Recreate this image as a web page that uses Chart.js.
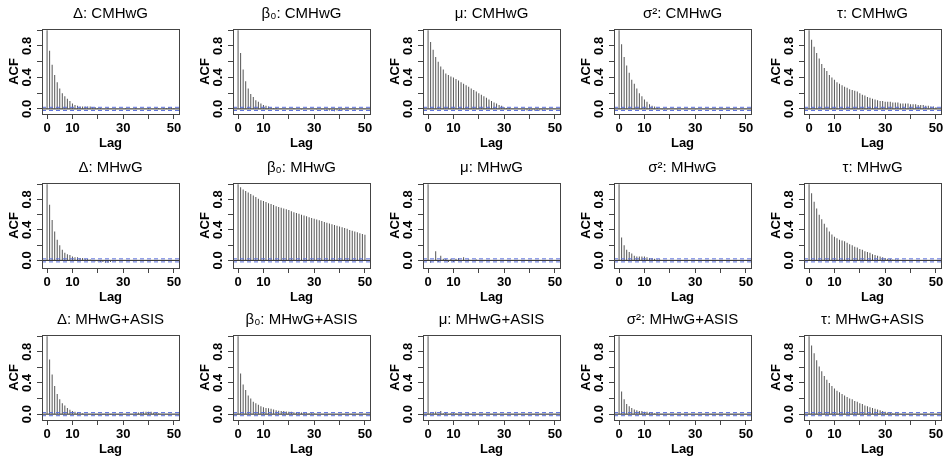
<!DOCTYPE html>
<html>
<head>
<meta charset="utf-8">
<script src="https://cdn.jsdelivr.net/npm/chart.js@4.4.1/dist/chart.umd.min.js"></script>
<style>
body { margin: 0; background: #fff; overflow: hidden; }
#grid { position: relative; width: 945px; height: 456px; overflow: hidden; }
#grid canvas { position: absolute; }
</style>
</head>
<body>
<div id="grid"></div>
<script>
// lags 0..50
const lags = [0,1,2,3,4,5,6,7,8,9,10,
  11,12,13,14,15,16,17,18,19,20,
  21,22,23,24,25,26,27,28,29,30,
  31,32,33,34,35,36,37,38,39,40,
  41,42,43,44,45,46,47,48,49,50];

const xTicks = [0, 10, 20, 30, 40, 50];
const xLabels = [0, 10, 30, 50];       // R drops 20 and 40 (overlap)
const yTicks = [0, 0.2, 0.4, 0.6, 0.8, 1.0];
const yLabels = [0, 0.4, 0.8];
const ciBound = 0.02;                  // dashed blue band

// ---- row 1 : CMHwG
const deltaCMHwG = [1.00,
  0.74,0.56,0.43,0.34,0.26,0.20,0.16,0.13,0.10,0.07,
  0.05,0.04,0.03,0.03,0.03,0.03,0.03,0.02,0.02,0.01,
  0.01,0.00,0.00,0.01,0.00,0.00,-0.01,0.00,0.00,0.00,
  0.01,0.00,0.00,0.00,0.01,0.00,0.00,0.00,0.00,0.01,
  0.00,0.00,0.01,0.01,0.00,0.01,0.01,0.02,0.02,0.01];
const beta0CMHwG = [1.00,
  0.71,0.50,0.35,0.26,0.19,0.15,0.11,0.09,0.07,0.05,
  0.04,0.03,0.02,0.01,0.01,0.00,0.00,0.00,0.00,0.00,
  0.00,0.01,0.00,0.00,-0.01,0.00,0.00,0.00,0.00,0.00,
  -0.01,0.00,-0.01,-0.01,-0.02,-0.02,-0.02,-0.03,-0.02,-0.02,
  -0.02,-0.01,-0.01,0.00,0.00,-0.01,0.00,0.00,0.00,0.00];
const muCMHwG = [1.00,
  0.85,0.75,0.66,0.60,0.54,0.50,0.45,0.43,0.41,0.40,
  0.38,0.36,0.34,0.32,0.30,0.28,0.26,0.24,0.22,0.20,
  0.18,0.16,0.14,0.12,0.10,0.08,0.07,0.05,0.04,0.02,
  0.01,0.01,0.00,0.00,0.00,0.00,-0.01,-0.01,-0.02,-0.02,
  -0.02,-0.02,-0.02,-0.02,-0.02,-0.01,-0.01,-0.01,0.00,0.00];
const sigma2CMHwG = [1.00,
  0.82,0.66,0.55,0.46,0.37,0.32,0.26,0.20,0.16,0.12,
  0.09,0.06,0.04,0.03,0.01,0.00,-0.01,-0.01,-0.01,0.00,
  0.00,0.00,-0.01,0.00,0.00,0.00,0.00,0.00,0.00,-0.01,
  0.00,0.00,0.00,0.00,0.00,0.00,0.00,0.00,0.00,0.00,
  0.00,0.00,0.00,0.00,-0.01,0.00,0.00,0.00,0.00,0.00];
const tauCMHwG = [1.00,
  0.88,0.79,0.71,0.64,0.57,0.52,0.48,0.43,0.40,0.37,
  0.34,0.32,0.30,0.28,0.27,0.25,0.24,0.23,0.22,0.20,
  0.18,0.17,0.15,0.14,0.13,0.12,0.11,0.10,0.10,0.09,
  0.09,0.09,0.08,0.08,0.08,0.07,0.07,0.07,0.07,0.06,
  0.06,0.06,0.05,0.05,0.05,0.04,0.04,0.03,0.03,0.02];

// ---- row 2 : MHwG
const deltaMHwG = [1.00,
  0.73,0.53,0.38,0.27,0.20,0.14,0.10,0.08,0.07,0.05,
  0.04,0.04,0.03,0.03,0.02,0.02,0.01,0.00,-0.01,-0.01,
  -0.02,-0.02,-0.03,-0.03,-0.02,-0.01,-0.01,0.00,0.00,0.00,
  0.00,0.00,0.00,-0.01,0.00,0.00,0.00,0.00,0.00,0.00,
  0.00,0.00,0.00,0.00,0.00,0.00,0.00,0.00,0.00,0.00];
const beta0MHwG = [1.00,
  0.96,0.93,0.91,0.89,0.87,0.85,0.83,0.81,0.79,0.78,
  0.765,0.75,0.74,0.725,0.71,0.70,0.69,0.68,0.67,0.66,
  0.645,0.63,0.62,0.61,0.60,0.59,0.58,0.565,0.555,0.545,
  0.535,0.525,0.515,0.505,0.495,0.485,0.475,0.465,0.455,0.445,
  0.435,0.425,0.415,0.40,0.39,0.38,0.37,0.355,0.345,0.335];
const muMHwG = [1.00,
  -0.03,0.00,0.12,-0.02,0.06,0.02,0.02,-0.02,0.02,-0.02,
  0.02,0.03,-0.01,0.04,0.00,0.01,0.00,0.00,0.01,0.00,
  0.00,-0.01,0.00,0.00,0.00,0.00,0.00,0.00,0.00,0.00,
  0.00,0.00,0.00,0.00,0.00,0.00,0.00,0.00,0.00,0.00,
  0.00,0.00,0.00,0.00,0.00,0.00,0.00,0.00,0.00,0.00];
const sigma2MHwG = [1.00,
  0.30,0.20,0.14,0.11,0.09,0.06,0.05,0.05,0.05,0.05,
  0.04,0.03,0.03,0.02,0.01,0.01,0.00,0.00,0.00,0.00,
  0.00,0.00,0.00,0.00,0.00,0.00,0.00,0.00,0.00,0.00,
  0.00,0.00,0.00,0.00,0.00,0.00,0.00,0.00,0.00,0.00,
  0.00,0.00,0.00,0.00,0.00,0.00,0.00,0.00,-0.01,0.00];
const tauMHwG = [1.00,
  0.88,0.77,0.68,0.60,0.54,0.48,0.43,0.38,0.34,0.31,
  0.29,0.27,0.26,0.25,0.23,0.21,0.20,0.18,0.17,0.15,
  0.14,0.12,0.11,0.10,0.08,0.07,0.06,0.05,0.04,0.03,
  0.02,0.02,0.01,0.01,0.01,0.00,0.00,0.00,0.00,0.00,
  0.00,0.00,0.00,0.00,0.00,0.00,0.00,0.00,0.00,0.00];

// ---- row 3 : MHwG+ASIS
const deltaASIS = [1.00,
  0.70,0.51,0.36,0.26,0.19,0.14,0.11,0.08,0.055,0.04,
  0.03,0.02,0.01,0.01,0.00,0.00,0.00,-0.01,-0.01,-0.01,
  -0.01,-0.01,-0.01,-0.01,-0.01,-0.01,-0.01,-0.01,-0.01,0.00,
  0.00,0.00,0.00,0.00,0.01,0.02,0.02,0.03,0.03,0.03,
  0.03,0.02,0.02,0.01,0.00,0.00,0.00,-0.01,0.00,0.00];
const beta0ASIS = [1.00,
  0.52,0.38,0.31,0.24,0.20,0.16,0.14,0.12,0.10,0.09,
  0.08,0.075,0.07,0.06,0.05,0.045,0.04,0.04,0.035,0.03,
  0.03,0.025,0.02,0.02,0.02,0.015,0.01,0.01,0.01,0.01,
  0.005,0.005,0.00,0.00,-0.005,0.00,0.00,0.00,0.00,0.00,
  0.00,0.00,0.00,0.00,0.00,0.00,0.00,0.00,0.00,0.00];
const muASIS = [1.00,
  0.01,0.02,0.03,-0.01,0.04,0.01,0.02,0.00,0.01,0.01,
  0.01,0.00,0.01,0.00,0.00,0.01,0.00,0.00,0.00,0.00,
  0.00,0.00,0.00,0.00,0.00,0.00,0.00,0.00,0.00,0.00,
  0.00,0.00,0.00,0.00,0.00,0.00,0.00,0.00,0.00,0.00,
  0.00,0.00,0.00,0.00,0.00,0.00,0.00,0.00,0.00,0.00];
const sigma2ASIS = [1.00,
  0.29,0.19,0.13,0.10,0.08,0.06,0.05,0.04,0.04,0.03,
  0.03,0.02,0.02,0.01,0.01,0.00,0.00,0.00,0.00,0.00,
  0.00,0.00,0.00,0.00,0.00,0.00,0.00,0.00,0.00,0.00,
  0.00,0.00,0.00,0.00,0.00,0.00,0.00,0.00,0.00,0.00,
  0.00,0.00,0.00,0.00,0.00,0.00,0.00,0.00,0.00,0.00];
const tauASIS = [1.00,
  0.88,0.78,0.69,0.61,0.55,0.49,0.44,0.40,0.36,0.33,
  0.30,0.28,0.26,0.24,0.22,0.20,0.19,0.17,0.16,0.14,
  0.13,0.11,0.10,0.09,0.08,0.07,0.06,0.05,0.04,0.03,
  0.02,0.02,0.01,0.01,0.01,0.00,0.00,0.00,0.00,0.00,
  0.00,0.00,0.00,0.00,0.00,0.00,0.00,0.00,0.00,0.00];

const titles = [
  'Δ: CMHwG', 'β₀: CMHwG', 'μ: CMHwG', 'σ²: CMHwG', 'τ: CMHwG',
  'Δ: MHwG', 'β₀: MHwG', 'μ: MHwG', 'σ²: MHwG', 'τ: MHwG',
  'Δ: MHwG+ASIS', 'β₀: MHwG+ASIS', 'μ: MHwG+ASIS', 'σ²: MHwG+ASIS', 'τ: MHwG+ASIS'
];
const series = [
  deltaCMHwG, beta0CMHwG, muCMHwG, sigma2CMHwG, tauCMHwG,
  deltaMHwG, beta0MHwG, muMHwG, sigma2MHwG, tauMHwG,
  deltaASIS, beta0ASIS, muASIS, sigma2ASIS, tauASIS
];
const rowYMin = [-0.065, -0.10, -0.075];

const family = '"Liberation Sans", Arial, Helvetica, sans-serif';
const rowTops = [0, 154, 306];

// box around plot + rotated y labels, the way R draws them
const rPlot = {
  id: 'rPlot',
  afterDraw(chart) {
    const ctx = chart.ctx;
    const a = chart.chartArea;
    const y = chart.scales.y;
    ctx.save();
    ctx.strokeStyle = '#444';
    ctx.lineWidth = 1;
    ctx.strokeRect(Math.round(a.left) + 0.5, Math.round(a.top) + 0.5,
      Math.round(a.right - a.left), Math.round(a.bottom - a.top));
    ctx.fillStyle = '#000';
    ctx.font = 'bold 13px ' + family;
    ctx.textAlign = 'center';
    ctx.textBaseline = 'middle';
    yLabels.forEach(v => {
      ctx.save();
      ctx.translate(a.left - 15, y.getPixelForValue(v));
      ctx.rotate(-Math.PI / 2);
      ctx.fillText(v.toFixed(1), 0, 0);
      ctx.restore();
    });
    ctx.restore();
  }
};

function hline(val, color, dash) {
  return {
    type: 'line',
    data: [{x: -2, y: val}, {x: 52, y: val}],
    borderColor: color,
    borderWidth: 1,
    borderDash: dash,
    pointRadius: 0,
    order: 0
  };
}

const grid = document.getElementById('grid');

series.forEach((vals, i) => {
  const row = Math.floor(i / 5), col = i % 5;
  const cv = document.createElement('canvas');
  cv.width = 190;
  cv.height = 152;
  cv.style.left = Math.round(col * 190.5) + 'px';
  cv.style.top = rowTops[row] + 'px';
  grid.appendChild(cv);

  new Chart(cv, {
    type: 'bar',
    data: {
      datasets: [
        {
          data: lags.map((l, k) => ({x: l, y: vals[k]})),
          backgroundColor: '#555',
          borderWidth: 0,
          barThickness: 1,
          inflateAmount: 0,
          order: 1
        },
        hline(0, '#222', []),
        hline(ciBound, '#5a6fdc', [4, 3]),
        hline(-ciBound, '#5a6fdc', [4, 3])
      ]
    },
    options: {
      responsive: false,
      animation: false,
      devicePixelRatio: 1,
      layout: { padding: { top: 0, right: 11, bottom: 0, left: 0 } },
      plugins: {
        legend: { display: false },
        tooltip: { enabled: false },
        title: {
          display: true,
          text: titles[i],
          fullSize: false,
          color: '#000',
          font: { family: family, size: 15, weight: 'normal' },
          padding: { top: 5, bottom: 6 }
        }
      },
      scales: {
        x: {
          type: 'linear',
          min: -2,
          max: 52,
          offset: false,
          afterBuildTicks: s => { s.ticks = xTicks.map(v => ({value: v})); },
          afterFit: s => { s.height = 38; },
          grid: { offset: false, drawOnChartArea: false, drawTicks: true, tickLength: 5, color: '#444' },
          border: { display: false },
          ticks: {
            autoSkip: false,
            maxRotation: 0,
            padding: 2,
            color: '#000',
            font: { family: family, size: 13, weight: 'bold' },
            callback: v => xLabels.includes(v) ? String(v) : ''
          },
          title: {
            display: true,
            text: 'Lag',
            color: '#000',
            font: { family: family, size: 13, weight: 'bold' },
            padding: { top: 0, bottom: 1 }
          }
        },
        y: {
          min: rowYMin[row],
          max: 1.015,
          afterBuildTicks: s => { s.ticks = yTicks.map(v => ({value: v})); },
          afterFit: s => { s.width = 42; },
          grid: { drawOnChartArea: false, drawTicks: true, tickLength: 5, color: '#444' },
          border: { display: false },
          ticks: { display: false },
          title: {
            display: true,
            text: 'ACF',
            color: '#000',
            font: { family: family, size: 13, weight: 'bold' },
            padding: { top: 7, bottom: 0 }
          }
        }
      }
    },
    plugins: [rPlot]
  });
});
</script>
</body>
</html>
